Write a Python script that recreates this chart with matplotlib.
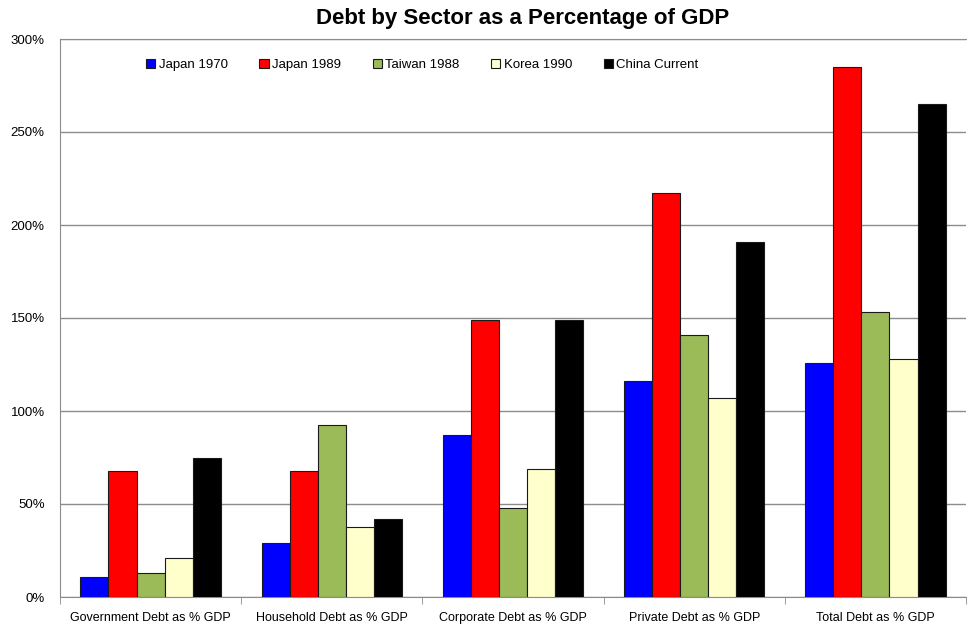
import matplotlib
matplotlib.use("Agg")
import matplotlib.pyplot as plt
import numpy as np
from matplotlib.ticker import FuncFormatter, FixedLocator

plt.rcParams['font.family'] = ['Liberation Sans', 'DejaVu Sans']

categories = ["Government Debt as % GDP", "Household Debt as % GDP", "Corporate Debt as % GDP",
              "Private Debt as % GDP", "Total Debt as % GDP"]
series_names = ["Japan 1970", "Japan 1989", "Taiwan 1988", "Korea 1990", "China Current"]
japan_1970 = [10.5, 29, 87, 116, 126]
japan_1989 = [68, 68, 149, 217, 285]
taiwan_1988 = [13, 92.5, 48, 141, 153]
korea_1990 = [21, 37.5, 69, 107, 128]
china_current = [75, 42, 149, 191, 265]
colors = ["#0000FF", "#FF0000", "#9BBB59", "#FFFFCC", "#000000"]

data = [japan_1970, japan_1989, taiwan_1988, korea_1990, china_current]

fig = plt.figure(figsize=(9.67, 6.28), dpi=100)
ax = fig.add_axes([60/967, 31/628, 906/967, 558/628])

x = np.arange(len(categories))
w = 0.155
for i, (vals, name, c) in enumerate(zip(data, series_names, colors)):
    ax.bar(x + (i - 2) * w, vals, width=w, color=c, edgecolor="#1a1a1a", linewidth=0.8,
           label=name, zorder=3)

ax.set_xlim(-0.5, len(categories) - 0.5)
ax.set_ylim(0, 300)
ax.yaxis.set_major_locator(FixedLocator(np.arange(0, 301, 50)))
ax.yaxis.set_major_formatter(FuncFormatter(lambda v, p: f"{int(v)}%"))
ax.grid(axis='y', color='#8c8c8c', linewidth=1, zorder=0)
ax.set_axisbelow(True)

ax.set_xticks(x)
ax.set_xticklabels(categories, fontsize=9)
ax.set_xticks(np.arange(-0.5, len(categories), 1), minor=True)
ax.tick_params(axis='x', which='major', length=0, pad=11)
ax.tick_params(axis='x', which='minor', length=5, color='#8c8c8c', direction='out')
ax.tick_params(axis='y', labelsize=9.5, length=0, pad=11)

ax.spines['right'].set_visible(False)
ax.spines['top'].set_color('#8c8c8c')
ax.spines['left'].set_color('#8c8c8c')
ax.spines['bottom'].set_color('#8c8c8c')

leg = ax.legend(loc='upper left', bbox_to_anchor=(0.082, 0.985), ncol=5, frameon=False,
                fontsize=9.5, handlelength=0.7, handleheight=0.7, handletextpad=0.25,
                columnspacing=2.4)
for h in leg.legend_handles:
    h.set_edgecolor('#1a1a1a')

fig.text(0.54, 0.97, "Debt by Sector as a Percentage of GDP", ha='center', va='center',
         fontsize=16, fontweight='bold')

fig.savefig("out.png", dpi=100)
